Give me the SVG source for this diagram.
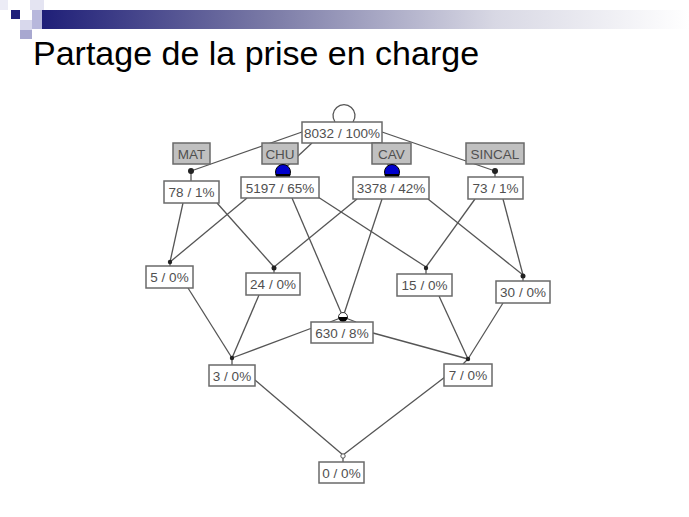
<svg xmlns="http://www.w3.org/2000/svg" width="689" height="517" viewBox="0 0 689 517">
<defs>
<linearGradient id="bar" x1="0" y1="0" x2="1" y2="0">
<stop offset="0" stop-color="#1f1f78"/>
<stop offset="0.35" stop-color="#7a7aa6"/>
<stop offset="0.7" stop-color="#d8d8e4"/>
<stop offset="1" stop-color="#ffffff"/>
</linearGradient>
<style>
.t{font-family:"Liberation Sans",Arial,sans-serif;font-size:13.5px;fill:#505050;text-anchor:middle}
.box{fill:#ffffff;stroke:#6a6a6a;stroke-width:1.5}
.attr{fill:#c0c0c0;stroke:#6a6a6a;stroke-width:1.5}
.e{stroke:#555555;stroke-width:1.3;fill:none}
.dot{fill:#222222}
</style>
</defs>
<rect width="689" height="517" fill="#ffffff"/>
<g id="banner">
<rect x="42" y="10" width="647" height="19" fill="url(#bar)"/>
<rect x="0" y="0" width="8" height="10" fill="#ececf6"/>
<rect x="30" y="0" width="14" height="10" fill="#e4e4f2"/>
<rect x="11" y="10" width="9" height="9" fill="#1f1f7a"/>
<rect x="32" y="10" width="10" height="19" fill="#b8b8dc"/>
<rect x="20" y="20" width="12" height="10" fill="#d8d8ec"/>
<rect x="20" y="30" width="12" height="9" fill="#a8a8d0"/>
</g>
<text x="33" y="65" font-family="'Liberation Sans',Arial,sans-serif" font-size="34" fill="#000000">Partage de la prise en charge</text>
<g id="connectors">
<path class="e" d="M335,122 A11,11 0 1 1 353,122"/>
<line class="e" x1="302" y1="132" x2="191" y2="171"/>
<line class="e" x1="312" y1="143" x2="283" y2="170"/>
<line class="e" x1="372" y1="143" x2="392" y2="170"/>
<line class="e" x1="382" y1="132" x2="495" y2="171"/>
<line class="e" x1="191" y1="171" x2="191" y2="181"/>
<line class="e" x1="495" y1="171" x2="495" y2="177"/>
<line class="e" x1="183" y1="203" x2="170" y2="262"/>
<line class="e" x1="217" y1="203" x2="274" y2="267"/>
<line class="e" x1="247" y1="198" x2="170" y2="262"/>
<line class="e" x1="292" y1="198" x2="343" y2="317"/>
<line class="e" x1="318" y1="197" x2="426" y2="267"/>
<line class="e" x1="357" y1="199" x2="274" y2="267"/>
<line class="e" x1="382" y1="199" x2="343" y2="317"/>
<line class="e" x1="428" y1="199" x2="523" y2="275"/>
<line class="e" x1="475" y1="199" x2="426" y2="267"/>
<line class="e" x1="503" y1="199" x2="523" y2="275"/>
<line class="e" x1="170" y1="262" x2="170" y2="266"/>
<line class="e" x1="274" y1="267" x2="274" y2="273"/>
<line class="e" x1="426" y1="267" x2="426" y2="274"/>
<line class="e" x1="523" y1="275" x2="523" y2="281"/>
<line class="e" x1="188" y1="288" x2="232" y2="358"/>
<line class="e" x1="259" y1="295" x2="232" y2="358"/>
<line class="e" x1="312" y1="328" x2="232" y2="358"/>
<line class="e" x1="373" y1="333" x2="468" y2="359"/>
<line class="e" x1="439" y1="296" x2="468" y2="359"/>
<line class="e" x1="503" y1="303" x2="468" y2="359"/>
<line class="e" x1="232" y1="358" x2="232" y2="365"/>
<line class="e" x1="468" y1="359" x2="463" y2="364"/>
<line class="e" x1="255" y1="380" x2="343" y2="455"/>
<line class="e" x1="445" y1="377" x2="343" y2="455"/>
<line class="e" x1="343" y1="455" x2="343" y2="462"/>
<line class="e" x1="343" y1="317" x2="330" y2="322"/>
<line class="e" x1="343" y1="317" x2="356" y2="322"/>
</g>
<g id="n8032"><rect class="box" x="302" y="122" width="80" height="21"/><text class="t" x="342" y="137.5">8032 / 100%</text></g>
<g id="MAT"><rect class="attr" x="173" y="143" width="37" height="21"/><text class="t" x="191.5" y="158.5">MAT</text></g>
<g id="CHU"><rect class="attr" x="262" y="143" width="36" height="21"/><text class="t" x="280" y="158.5">CHU</text></g>
<g id="CAV"><rect class="attr" x="372" y="143" width="39" height="21"/><text class="t" x="391.5" y="158.5">CAV</text></g>
<g id="SINCAL"><rect class="attr" x="466" y="143" width="58" height="21"/><text class="t" x="495" y="158.5">SINCAL</text></g>
<g id="markers">
<circle class="dot" cx="191" cy="171" r="3"/>
<circle class="dot" cx="495" cy="171" r="3"/>
<circle cx="283" cy="172" r="7.5" fill="#0000cc" stroke="#000" stroke-width="1"/>
<path d="M275.5,174 H290.5 A7.5,7.5 0 0 1 275.5,174 Z" fill="#000"/>
<circle cx="392" cy="172" r="7.5" fill="#0000cc" stroke="#000" stroke-width="1"/>
<path d="M384.5,174 H399.5 A7.5,7.5 0 0 1 384.5,174 Z" fill="#000"/>
<circle class="dot" cx="170" cy="262" r="2.2"/>
<circle class="dot" cx="274" cy="268" r="2.5"/>
<circle class="dot" cx="426" cy="268" r="2.2"/>
<circle class="dot" cx="523" cy="276" r="2.5"/>
<circle cx="343" cy="317" r="4.5" fill="#ffffff" stroke="#333" stroke-width="1"/>
<path d="M338.5,317 H347.5 A4.5,4.5 0 0 1 338.5,317 Z" fill="#000"/>
<circle class="dot" cx="232" cy="358" r="2.2"/>
<circle class="dot" cx="468" cy="359" r="2.2"/>
<circle cx="343" cy="456" r="2.2" fill="#ffffff" stroke="#555" stroke-width="1"/>
</g>
<g id="n78"><rect class="box" x="164" y="181" width="55" height="22"/><text class="t" x="191.5" y="196.5">78 / 1%</text></g>
<g id="n5197"><rect class="box" x="241" y="177" width="78" height="21"/><text class="t" x="280" y="192.5">5197 / 65%</text></g>
<g id="n3378"><rect class="box" x="353" y="177" width="76" height="22"/><text class="t" x="391" y="192.5">3378 / 42%</text></g>
<g id="n73"><rect class="box" x="468" y="177" width="55" height="22"/><text class="t" x="495.5" y="192.5">73 / 1%</text></g>
<g id="n5"><rect class="box" x="146" y="266" width="47" height="22"/><text class="t" x="169.5" y="281.5">5 / 0%</text></g>
<g id="n24"><rect class="box" x="246" y="273" width="54" height="22"/><text class="t" x="273" y="288.5">24 / 0%</text></g>
<g id="n15"><rect class="box" x="397" y="274" width="55" height="22"/><text class="t" x="424.5" y="289.5">15 / 0%</text></g>
<g id="n30"><rect class="box" x="496" y="281" width="54" height="22"/><text class="t" x="523" y="296.5">30 / 0%</text></g>
<g id="n630"><rect class="box" x="311" y="322" width="62" height="21"/><text class="t" x="342" y="337.5">630 / 8%</text></g>
<g id="n3"><rect class="box" x="209" y="365" width="46" height="21"/><text class="t" x="232" y="380.5">3 / 0%</text></g>
<g id="n7"><rect class="box" x="444" y="364" width="48" height="22"/><text class="t" x="468" y="379.5">7 / 0%</text></g>
<g id="n0"><rect class="box" x="319" y="462" width="45" height="21"/><text class="t" x="341.5" y="477.5">0 / 0%</text></g>
</svg>
